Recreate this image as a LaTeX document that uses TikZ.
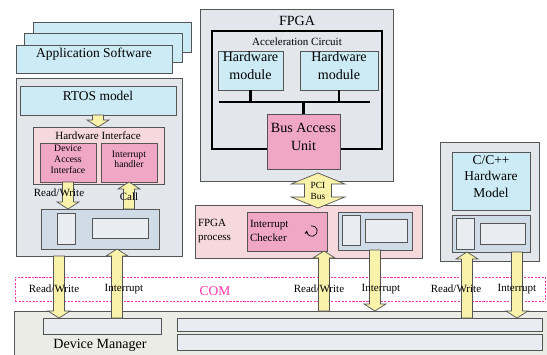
\documentclass[tikz,border=0pt]{standalone}
\usepackage{fontspec}
\setmainfont{Liberation Serif}
\usetikzlibrary{calc,fit,shadows,arrows.meta}

\definecolor{appcyan}{HTML}{CDEBF5}
\definecolor{boxgray}{HTML}{E3E6EB}
\definecolor{lightpink}{HTML}{F6D9DC}
\definecolor{modpink}{HTML}{F0A7C6}
\definecolor{regblue}{HTML}{CFDCE8}
\definecolor{cellgray}{HTML}{E9EDF1}
\definecolor{arrowyellow}{HTML}{F8F2AA}
\definecolor{dmgray}{HTML}{EBECE6}
\definecolor{commag}{HTML}{FF33AA}
\definecolor{edgegray}{HTML}{555555}

% fat block arrows, vertical only
\newcommand\fatdown[2]{\draw[fatarr] let \p1=(#1), \p2=(#2) in
  (\x1-4.7pt,\y1) -- (\x1-4.7pt,\y2+6pt) -- (\x1-9.4pt,\y2+6pt) -- (\x1,\y2)
  -- (\x1+9.4pt,\y2+6pt) -- (\x1+4.7pt,\y2+6pt) -- (\x1+4.7pt,\y1) -- cycle;}
\newcommand\fatup[2]{\draw[fatarr] let \p1=(#1), \p2=(#2) in
  (\x1-4.7pt,\y1) -- (\x1-4.7pt,\y2-6pt) -- (\x1-9.4pt,\y2-6pt) -- (\x1,\y2)
  -- (\x1+9.4pt,\y2-6pt) -- (\x1+4.7pt,\y2-6pt) -- (\x1+4.7pt,\y1) -- cycle;}

\begin{document}
\begin{tikzpicture}[x=0.03cm, y=-0.03cm,
    every node/.style={inner sep=0pt, outer sep=0pt},
    box/.style={draw=edgegray, line width=0.6pt},
    appbox/.style={box, fill=appcyan, align=center},
    graybox/.style={box, fill=boxgray, drop shadow={shadow xshift=1.2pt, shadow yshift=-1.2pt, opacity=0.25}},
    hwibox/.style={box, fill=lightpink},
    modbox/.style={box, fill=modpink, align=center},
    regbox/.style={box, fill=regblue},
    cellbox/.style={box, fill=cellgray},
    accbox/.style={draw=black, line width=1.1pt},
    combox/.style={draw=commag, line width=0.6pt, dash pattern=on 1.8pt off 1.2pt},
    dmbox/.style={box, fill=dmgray},
    fatarr/.style={draw=edgegray, line width=0.6pt, fill=arrowyellow},
    bus/.style={line width=2.4pt, black},
    fbig/.style={font=\fontsize{11.5}{14}\selectfont},
    fhw/.style={font=\fontsize{12}{16}\selectfont},
    fmid/.style={font=\fontsize{9.4}{12.7}\selectfont},
    fsmall/.style={font=\fontsize{8.3}{9.3}\selectfont},
    fpci/.style={font=\fontsize{8}{10}\selectfont}]
  \clip (0,0) rectangle (547,354);

  % application software stack
  \node[appbox, fit={(33,22) (191,52)}] (app3) {};
  \node[appbox, fit={(24,33) (182,62)}] (app2) {};
  \node[appbox, fit={(16,45) (172,73)}, fbig] (app) {Application Software};

  % RTOS side
  \node[graybox, fit={(16,78) (182,256)}] (host) {};
  \node[appbox, fit={(20,86) (176,115)}, fbig] (rtos) {RTOS model};
  \node[hwibox, fit={(33,127) (164,184)}] (hwi) {};
  \node[fmid] (hwilabel) at (98,136) {Hardware Interface};
  \node[modbox, fit={(40,143) (96,182)}, fsmall] (dai) {Device\\Access\\Interface};
  \node[modbox, fit={(101,143) (157,182)}, fsmall] (ih) {Interrupt\\handler};
  \node[regbox, fit={(41,209) (159,249)}] (reg) {};
  \node[cellbox, fit={(57,213) (75,244)}] (regA) {};
  \node[cellbox, fit={(92,218) (148,238)}] (regB) {};

  % FPGA
  \node[graybox, fit={(200,9) (393,181)}] (fpga) {};
  \node[fhw] (fpgalabel) at (297,21) {FPGA};
  \node[accbox, fit={(212,31) (382,149)}] (acc) {};
  \node[fmid] (acclabel) at (297,42) {Acceleration Circuit};
  \node[appbox, fit={(218,51) (283,90)}, fhw] (hm1) {Hardware\\module};
  \node[appbox, fit={(300,51) (378,90)}, fhw] (hm2) {Hardware\\module};
  \node[modbox, fit={(267,114) (340,169)}, fhw] (bau) {Bus Access\\Unit};
  \coordinate (busL) at (219,102);
  \coordinate (busR) at (370,102);
  \draw[bus] (busL) -- (busR);
  \draw[bus, line width=1.8pt] (hm1.south) -- (hm1.south |- busL);
  \draw[bus, line width=1.8pt] (hm2.south) -- (hm2.south |- busL);
  \draw[bus, line width=1.8pt] (bau.north) -- (bau.north |- busL);

  % FPGA process
  \node[hwibox, fit={(195,205) (422,258)}] (fproc) {};
  \node[fmid, align=left, anchor=west] (fproclabel) at (198,231) {FPGA\\process};
  \node[modbox, fit={(247,212) (327,251)}] (ic) {};
  \node[fmid, align=left, anchor=west] (iclabel) at (250,231) {Interrupt\\Checker};
  \draw[line width=0.6pt, -{Stealth[length=3pt,width=3.2pt]}]
    ([shift={(100:4.5pt)}]312,231) arc[start angle=100, end angle=-185, radius=4.5pt];
  \node[regbox, fit={(338,212) (412,250)}] (freg) {};
  \node[cellbox, fit={(342,215) (360,245)}] (fregA) {};
  \node[cellbox, fit={(365,219) (407,242)}] (fregB) {};

  % PCI bus
  \coordinate (pcitop) at (318,173);
  \coordinate (pcibot) at (318,208);
  \draw[fatarr] let \p1=(pcitop), \p2=(pcibot) in
    (\x1,\y1) -- (\x1+23pt,\y1-9.4pt) -- (\x1+11.5pt,\y1-9.4pt) -- (\x1+11.5pt,\y2+9.4pt)
    -- (\x1+23pt,\y2+9.4pt) -- (\x1,\y2) -- (\x1-23pt,\y2+9.4pt) -- (\x1-11.5pt,\y2+9.4pt)
    -- (\x1-11.5pt,\y1-9.4pt) -- (\x1-23pt,\y1-9.4pt) -- cycle;
  \node[fpci, align=center] (pcilabel) at (318,191) {PCI\\Bus};

  % C/C++ model
  \node[graybox, fit={(440,142) (539,261)}] (cpp) {};
  \node[appbox, fit={(452,152) (530,210)}, fbig] (cppmodel) {C/C++\\Hardware\\Model};
  \node[regbox, fit={(452,215) (530,252)}] (creg) {};
  \node[cellbox, fit={(456,218) (474,249)}] (cregA) {};
  \node[cellbox, fit={(480,223) (525,244)}] (cregB) {};

  % COM and device manager
  \node[combox, fit={(15,277) (545,301)}] (com) {};
  \node[dmbox, fit={(14,311) (552,360)}] (dm) {};
  \node[cellbox, fit={(43,318) (161,334)}] (dmA) {};
  \node[cellbox, fit={(177,318) (542,331)}] (dmB) {};
  \node[cellbox, fit={(177,334) (542,350)}] (dmC) {};
  \node[fhw] (dmlabel) at (100,345) {Device Manager};

  % arrows
  \fatdown{rtos.south}{hwi.north}
  \fatdown{dai.south}{dai.south |- reg.north}
  \fatup{ih.south |- reg.north}{ih.south}
  \coordinate (rw1) at (59,256);
  \coordinate (int1) at (117,318);
  \fatdown{rw1}{rw1 |- dmA.north}
  \fatup{int1}{int1 |- reg.south}
  \coordinate (rw2) at (324,311);
  \fatup{rw2}{rw2 |- ic.south}
  \fatdown{freg.south}{freg.south |- dm.north}
  \coordinate (rw3) at (467,318);
  \coordinate (int3) at (517,252);
  \fatup{rw3}{rw3 |- creg.south}
  \fatdown{int3}{int3 |- dmB.north}

  % labels
  \node[fmid] (rwlabelA) at (59,193) {Read/Write};
  \node[fmid] (calllabel) at (129,197) {Call};
  \node[fbig, text=commag] (comlabel) at (215,291) {COM};
  \node[fmid] (rwlabel1) at (54,289) {Read/Write};
  \node[fmid] (intlabel1) at (124,289) {Interrupt};
  \node[fmid] (rwlabel2) at (319,289) {Read/Write};
  \node[fmid] (intlabel2) at (381,289) {Interrupt};
  \node[fmid] (rwlabel3) at (456,289) {Read/Write};
  \node[fmid] (intlabel3) at (517,289) {Interrupt};
\end{tikzpicture}
\end{document}
